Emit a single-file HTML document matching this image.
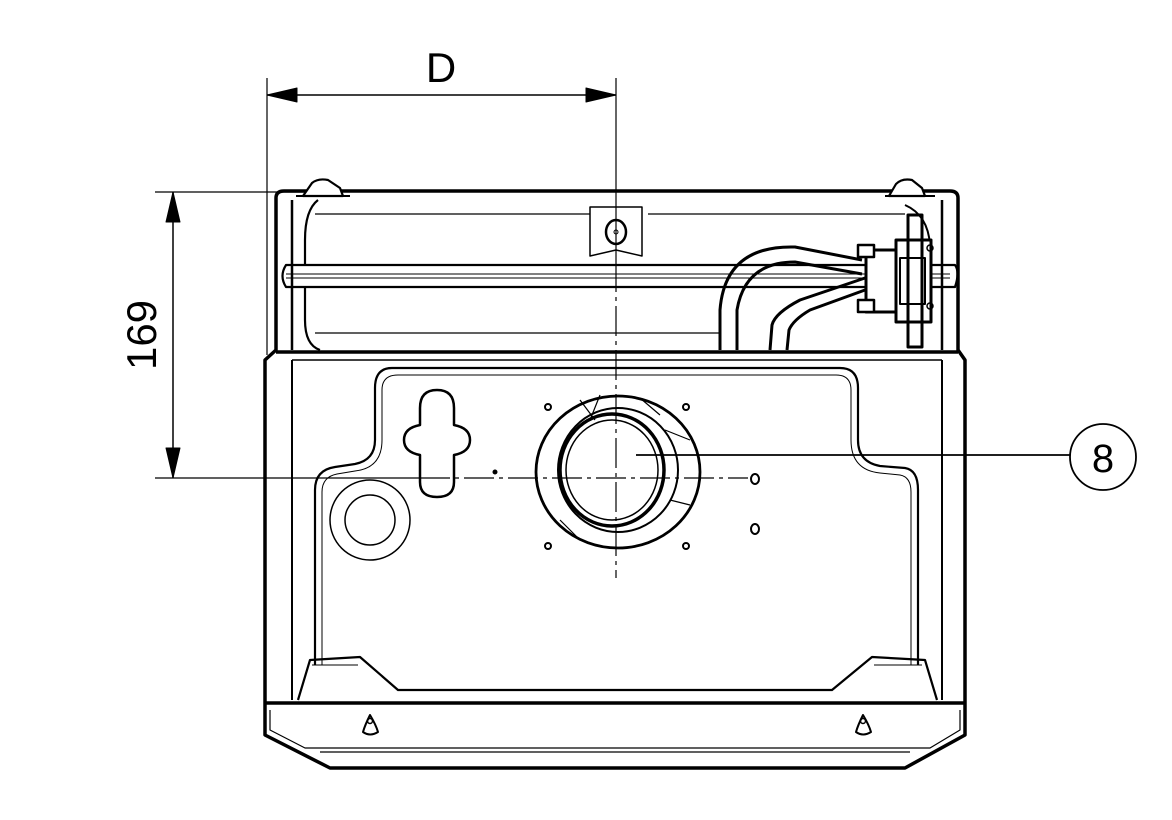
<!DOCTYPE html>
<html><head><meta charset="utf-8"><style>html,body{margin:0;padding:0;background:#fff}svg{display:block}</style></head>
<body>
<svg width="1172" height="820" viewBox="0 0 1172 820" xmlns="http://www.w3.org/2000/svg" fill="none" stroke="#000" stroke-linejoin="round">
<!-- dimension D -->
<line x1="267" y1="78" x2="267" y2="355" stroke-width="1.2"/>
<line x1="616" y1="78" x2="616" y2="262" stroke-width="1.2"/>
<line x1="267" y1="95" x2="616" y2="95" stroke-width="1.5"/>
<polygon points="267,95 297,88 297,102" fill="#000"/>
<polygon points="616,95 586,88 586,102" fill="#000"/>
<text x="441" y="82" font-family="Liberation Sans, sans-serif" font-size="42" fill="#000" stroke="none" text-anchor="middle">D</text>
<!-- dimension 169 -->
<line x1="155" y1="192" x2="330" y2="192" stroke-width="1.2"/>
<line x1="155" y1="478" x2="420" y2="478" stroke-width="1.2"/>
<line x1="173" y1="192" x2="173" y2="478" stroke-width="1.5"/>
<polygon points="173,192 166,222 180,222" fill="#000"/>
<polygon points="173,478 166,448 180,448" fill="#000"/>
<text transform="translate(156,335) rotate(-90)" font-family="Liberation Sans, sans-serif" font-size="42" fill="#000" stroke="none" text-anchor="middle">169</text>
<!-- outer body -->
<path d="M276,350 L276,198 Q276,191 284,191 L950,191 Q958,191 958,198 L958,350 L965,360 L965,700 L965,735 L905,768 L330,768 L265,735 L265,360 L276,350 Z" stroke-width="3.5"/>
<line x1="292" y1="200" x2="292" y2="350" stroke-width="2.5"/>
<line x1="942" y1="200" x2="942" y2="350" stroke-width="2.5"/>
<line x1="276" y1="352" x2="958" y2="352" stroke-width="3.5"/>
<line x1="292" y1="360" x2="942" y2="360" stroke-width="1.5"/>
<line x1="292" y1="360" x2="292" y2="700" stroke-width="2"/>
<line x1="942" y1="360" x2="942" y2="700" stroke-width="2"/>
<line x1="265" y1="703" x2="965" y2="703" stroke-width="3.5"/>
<path d="M270,710 L270,730 L305,748 L930,748 L960,730 L960,710" stroke-width="1.2"/>
<line x1="320" y1="752" x2="910" y2="752" stroke-width="1.2"/>
<!-- top tabs -->
<path d="M303,196 L312,183 Q318,178 328,180 L340,188 L343,196 Z" stroke-width="2.2" fill="#fff"/>
<path d="M889,196 L896,184 Q902,178 912,180 L922,188 L925,196 Z" stroke-width="2.2" fill="#fff"/>
<line x1="296" y1="196" x2="350" y2="196" stroke-width="2"/>
<line x1="885" y1="196" x2="935" y2="196" stroke-width="2"/>
<!-- tank -->
<path d="M318,200 Q305,210 305,240 L305,265 M305,288 L305,320 Q305,345 320,350" stroke-width="2.2"/>
<path d="M905,205 Q928,215 930,245" stroke-width="2"/>
<line x1="315" y1="214" x2="590" y2="214" stroke-width="1.2"/>
<line x1="648" y1="214" x2="905" y2="214" stroke-width="1.2"/>
<line x1="315" y1="333" x2="720" y2="333" stroke-width="1.2"/>
<!-- bar -->
<path d="M286,265 L955,265 Q960,272 955,287 L286,287 Q279,276 286,265 Z" stroke-width="2.2"/>
<line x1="286" y1="274" x2="950" y2="274" stroke-width="1"/>
<line x1="286" y1="278" x2="950" y2="278" stroke-width="1"/>
<!-- bracket -->
<path d="M590,207 L590,256 L616,250 L642,256 L642,207 Z" stroke-width="1.5"/>
<ellipse cx="616" cy="232" rx="10" ry="12" stroke-width="2.5"/>
<circle cx="616" cy="232" r="2" stroke-width="1"/>
<!-- pipes -->
<path d="M720,350 L720,310 Q725,245 795,247 L862,260" stroke-width="3"/>
<path d="M737,350 L737,310 Q745,262 795,262 L862,274" stroke-width="3"/>
<path d="M770,350 L772,325 Q775,313 800,300 L865,278" stroke-width="3"/>
<path d="M787,350 L789,330 Q793,320 810,310 L865,290" stroke-width="3"/>
<!-- connector -->
<rect x="866" y="250" width="30" height="62" stroke-width="3" fill="#fff"/>
<rect x="896" y="240" width="35" height="82" stroke-width="3" fill="#fff"/>
<rect x="908" y="215" width="14" height="132" stroke-width="3"/>
<rect x="858" y="245" width="16" height="12" stroke-width="2.5" fill="#fff"/>
<rect x="858" y="300" width="16" height="12" stroke-width="2.5" fill="#fff"/>
<rect x="900" y="258" width="25" height="46" stroke-width="2"/>
<circle cx="930" cy="248" r="3" stroke-width="1.5"/>
<circle cx="930" cy="306" r="3" stroke-width="1.5"/>
<!-- panel -->
<path d="M392,368 L840,368 Q858,368 858,388 L858,440 Q858,462 880,466 L905,468 Q918,470 918,490 L918,665 M315,665 L315,490 Q315,470 335,467 L355,464 Q375,460 375,440 L375,388 Q375,368 392,368" stroke-width="2.2"/>
<path d="M398,375 L836,375 Q851,375 851,390 L851,440 Q851,470 880,473 L900,475 Q911,477 911,492 L911,665 M322,665 L322,492 Q322,477 337,474 L355,471 Q382,468 382,440 L382,390 Q382,375 398,375" stroke-width="1"/>
<!-- bottom trapezoid -->
<path d="M298,700 L310,660 L360,657 L398,690 L832,690 L872,657 L925,660 L937,700" stroke-width="2.2"/>
<line x1="312" y1="665" x2="358" y2="665" stroke-width="1"/>
<line x1="874" y1="665" x2="922" y2="665" stroke-width="1"/>
<!-- keyhole -->
<path d="M420,425 L420,408 Q420,390 437,390 Q454,390 454,408 L454,425 Q470,428 470,440 Q470,452 454,455 L454,482 Q454,497 437,497 Q420,497 420,482 L420,455 Q404,452 404,440 Q404,428 420,425 Z" stroke-width="2.5"/>
<!-- left circle -->
<circle cx="370" cy="520" r="40" stroke-width="1.5"/>
<circle cx="370" cy="520" r="25" stroke-width="1.5"/>
<!-- flue -->
<ellipse cx="618" cy="472" rx="82" ry="76" stroke-width="2.8"/>
<ellipse cx="618" cy="470" rx="60" ry="62" stroke-width="2"/>
<ellipse cx="612" cy="470" rx="52" ry="56" stroke-width="3.5"/>
<ellipse cx="612" cy="470" rx="46" ry="50" stroke-width="1.5"/>
<path d="M580,400 L595,420 M640,398 L660,415 M665,430 L690,440 M580,540 L560,520 M600,395 L590,420 M670,500 L690,505" stroke-width="1.2"/>
<circle cx="548" cy="407" r="3" stroke-width="2"/>
<circle cx="686" cy="407" r="3" stroke-width="2"/>
<circle cx="548" cy="546" r="3" stroke-width="2"/>
<circle cx="686" cy="546" r="3" stroke-width="2"/>
<ellipse cx="755" cy="479" rx="4" ry="5" stroke-width="2"/>
<ellipse cx="755" cy="529" rx="4" ry="5" stroke-width="2"/>
<circle cx="495" cy="472" r="2" fill="#000"/>
<!-- hooks -->
<path d="M370,715 Q365,725 363,732 Q370,737 378,732 Q376,725 370,715 Z" stroke-width="2"/>
<circle cx="370" cy="721" r="2.5" stroke-width="1.5"/>
<path d="M863,715 Q858,725 856,732 Q863,737 871,732 Q869,725 863,715 Z" stroke-width="2"/>
<circle cx="863" cy="721" r="2.5" stroke-width="1.5"/>
<!-- centerlines -->
<line x1="616" y1="262" x2="616" y2="578" stroke-width="1.2" stroke-dasharray="30,5,4,5"/>
<line x1="420" y1="478" x2="748" y2="478" stroke-width="1.2" stroke-dasharray="30,5,4,5"/>
<!-- callout 8 -->
<line x1="636" y1="455" x2="1070" y2="455" stroke-width="1.8"/>
<circle cx="1103" cy="457" r="33" stroke-width="1.8"/>
<text x="1103" y="472" font-family="Liberation Sans, sans-serif" font-size="40" fill="#000" stroke="none" text-anchor="middle">8</text>
</svg>
</body></html>
